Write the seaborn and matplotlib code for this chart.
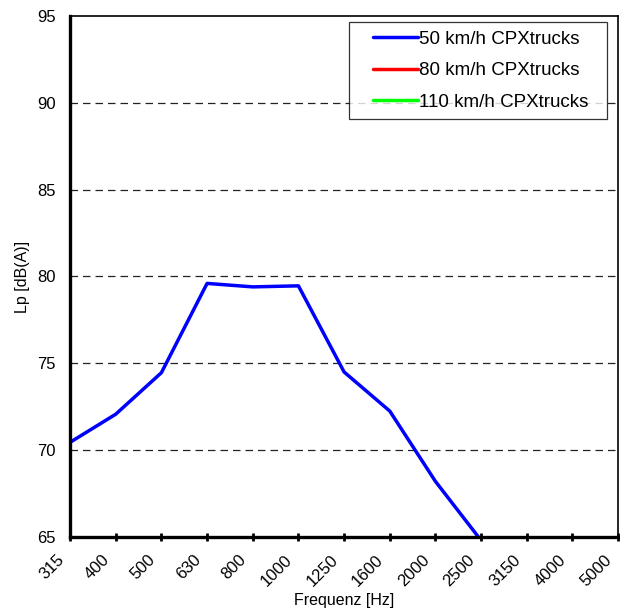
import numpy as np
import pandas as pd
import matplotlib
matplotlib.use('Agg')
import matplotlib.pyplot as plt
import matplotlib.transforms as mtransforms
from matplotlib.legend_handler import HandlerLine2D
import seaborn as sns

# Terzband-Frequenzen und Pegel
freqs = ['315', '400', '500', '630', '800', '1000', '1250', '1600',
         '2000', '2500', '3150', '4000', '5000']
lp_50 = [70.45, 72.07, 74.46, 79.6, 79.4, 79.46, 74.5, 72.25,
         68.2, 64.8, np.nan, np.nan, np.nan]
lp_80 = [np.nan] * 13
lp_110 = [np.nan] * 13

series_names = ['50 km/h CPXtrucks', '80 km/h CPXtrucks', '110 km/h CPXtrucks']
series_colors = ['#0000ff', '#ff0000', '#00ff00']

df = pd.DataFrame({
    'pos': list(range(len(freqs))) * 3,
    'Lp': lp_50 + lp_80 + lp_110,
    'serie': [s for s in series_names for _ in freqs],
})


# Legendenlinie mit Abstand links (Excel-Legende hat mehr Rand)
class LeadLine(HandlerLine2D):
    lead = 11

    def create_artists(self, legend, orig_handle, xdescent, ydescent,
                       width, height, fontsize, trans):
        return super().create_artists(legend, orig_handle, xdescent - self.lead,
                                      ydescent, width - self.lead, height,
                                      fontsize, trans)


sns.set_style('white')
plt.rcParams['font.family'] = ['Liberation Sans', 'DejaVu Sans']
plt.rcParams['text.color'] = 'black'
plt.rcParams['axes.labelcolor'] = 'black'
plt.rcParams['xtick.color'] = 'black'
plt.rcParams['ytick.color'] = 'black'

fig = plt.figure(figsize=(6.2, 6.13), dpi=100)
ax = fig.add_axes([0.113, 0.124, 0.884, 0.850])

for name, col in zip(series_names, series_colors):
    sub = df[df['serie'] == name]
    sns.lineplot(data=sub, x='pos', y='Lp', ax=ax, color=col, lw=2.5,
                 label=name + '  ', clip_on=True)

ax.set_xlim(0, len(freqs) - 1)
ax.set_ylim(65, 95)
ax.set_yticks(range(65, 100, 5))
ax.set_xticks(range(len(freqs)))
ax.set_xticklabels(freqs, rotation=45, ha='right', rotation_mode='anchor',
                   fontsize=12)
ax.tick_params(axis='y', labelsize=12, left=False, pad=7)
ax.tick_params(axis='x', bottom=True, direction='inout', length=6, width=2,
               color='black', pad=8)

# Beschriftung leicht nach links verschieben (wie Excel)
shift = mtransforms.ScaledTranslation(-14 / 100, 0, fig.dpi_scale_trans)
for lab in ax.get_xticklabels():
    lab.set_transform(lab.get_transform() + shift)

for y in range(70, 95, 5):
    ax.axhline(y, color='#222222', lw=0.9, ls=(0, (6, 4)), zorder=0)

ax.spines['left'].set_linewidth(2.4)
ax.spines['bottom'].set_linewidth(2.4)
ax.spines['top'].set_linewidth(1.2)
ax.spines['right'].set_linewidth(1.2)
for s in ax.spines.values():
    s.set_color('black')

ax.set_xlabel('Frequenz [Hz]', fontsize=11.5, labelpad=3)
ax.set_ylabel('Lp [dB(A)]', fontsize=11.5, labelpad=5)

leg = ax.legend(loc='upper right', bbox_to_anchor=(0.98, 0.988), fontsize=13.5,
                frameon=True, fancybox=False, edgecolor='black',
                handlelength=3.2, handletextpad=0.05, borderpad=0.45,
                labelspacing=0.77, borderaxespad=0,
                handler_map={plt.Line2D: LeadLine()})
leg.get_frame().set_linewidth(0.9)

plt.savefig('out.png', dpi=100)
